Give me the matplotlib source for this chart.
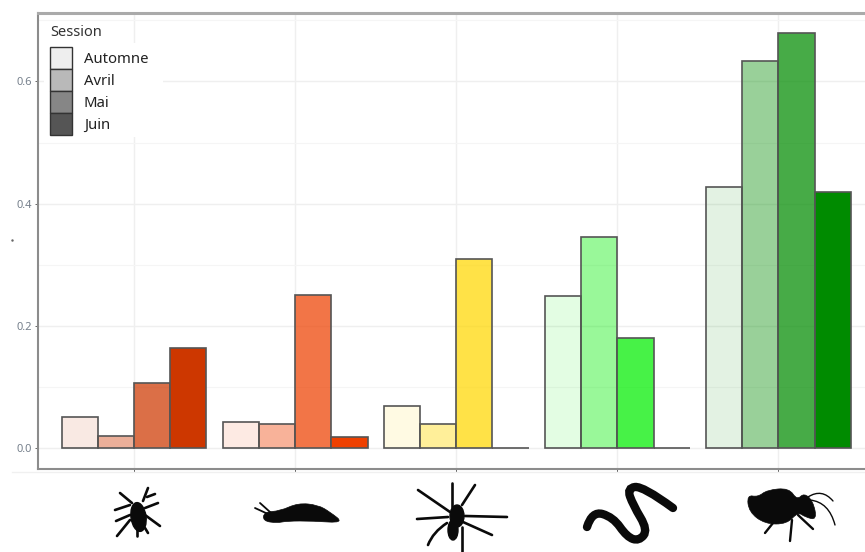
# -*- coding: utf-8 -*-
"""Bars per taxon and session, with taxon silhouettes under the axis."""

import matplotlib
matplotlib.use('Agg')
import matplotlib.pyplot as plt
import numpy as np
from matplotlib.colors import to_rgba
from matplotlib.patches import Ellipse, Patch, PathPatch, Rectangle
from matplotlib.path import Path

sessions = ['Automne', 'Avril', 'Mai', 'Juin']
session_alpha = [0.11, 0.4, 0.72, 1.0]
legend_grey = ['#eeeeee', '#b9b9b9', '#868686', '#555555']

base_colours = ['#cd3700', '#ee4000', '#ffd700', '#00ee00', '#008b00']
automne = [0.050, 0.043, 0.068, 0.249, 0.427]
avril = [0.020, 0.040, 0.040, 0.346, 0.633]
mai = [0.106, 0.250, 0.310, 0.180, 0.679]
juin = [0.163, 0.018, 0.0, 0.0, 0.419]
y_ticks = [0.0, 0.2, 0.4, 0.6]

W, H = 865, 552
values = [automne, avril, mai, juin]
bar_width = 0.225

plt.rcParams['font.family'] = 'Noto Sans'
fig = plt.figure(figsize=(W/100, H/100), dpi=100)
# ggplot-like panel: the right edge runs past the end of the image
ax = fig.add_axes([38/W, (H-469)/H, (875-38)/W, (469-13)/H])
ax.set_xlim(0.404, 5.6)
ax.set_ylim(-0.0343, 0.712)
ax.set_axisbelow(True)

# overlay in image pixel coordinates, used for the legend mask and silhouettes
icons = fig.add_axes([0, 0, 1, 1], zorder=5)
icons.set_xlim(0, W)
icons.set_ylim(H, 0)
icons.axis('off')

positions = np.arange(1, 6)
for i, session in enumerate(sessions):
    fills = [to_rgba(c, session_alpha[i]) for c in base_colours]
    ax.bar(positions + (i-1.5)*bar_width, values[i], bar_width, color=fills,
           edgecolor='#555555', linewidth=1.2)

ax.set_xticks(positions)
ax.set_xticklabels([])
ax.set_yticks(y_ticks)
ax.set_yticklabels(['%.1f' % t for t in y_ticks], fontsize=8, color='#76808c')
ax.set_yticks([0.1, 0.3, 0.5, 0.7], minor=True)
ax.tick_params(axis='both', which='major', length=2.5, width=0.7, color='#666666', pad=2)
ax.tick_params(axis='y', which='minor', length=0)
ax.grid(True, which='major', color='#efefef', linewidth=1.0)
ax.grid(True, which='minor', axis='y', color='#f5f5f5', linewidth=0.8)
for spine in ax.spines.values():
    spine.set_color('#8c8c8c')
    spine.set_linewidth(1.5)
ax.spines['top'].set_color('#aaaaaa')
ax.spines['top'].set_linewidth(2.2)

# white legend background hides the grid
ax.add_patch(Rectangle((44, 43), 119, 94, transform=icons.transData, facecolor='white',
                       edgecolor='none', zorder=1.5))
handles = [Patch(facecolor=g, edgecolor='#333333', linewidth=1.0) for g in legend_grey]
leg = ax.legend(handles, sessions, loc='upper left',
                bbox_to_anchor=(12/837, 1-34/456), fontsize=10.7,
                frameon=False, handlelength=1.48, handleheight=1.9, labelspacing=0,
                handletextpad=0.8, borderpad=0, borderaxespad=0)
for text in leg.get_texts():
    text.set_color('#222222')
icons.text(50, 33, 'Session', fontsize=10.5, color='#333333', ha='left', va='center')

ink = '#0a0a0a'


def smooth(points, closed=False):
    """Quadratic spline through the midpoints of the given outline."""
    pts = [np.array(p, dtype=float) for p in points]
    if closed:
        pts = pts + pts[:1]
        start = (pts[0] + pts[1]) / 2
        verts, codes = [start], [Path.MOVETO]
        for a, b in zip(pts[1:], pts[2:] + pts[1:2]):
            verts += [a, (a + b) / 2]
            codes += [Path.CURVE3, Path.CURVE3]
    else:
        verts, codes = [pts[0]], [Path.MOVETO]
        for a, b in zip(pts[1:-1], pts[2:]):
            end = b if b is pts[-1] else (a + b) / 2
            verts += [a, end]
            codes += [Path.CURVE3, Path.CURVE3]
        if len(pts) == 2:
            verts.append(pts[1])
            codes.append(Path.LINETO)
    return Path(verts, codes)


def legs(segments, width):
    for seg in segments:
        icons.add_patch(PathPatch(smooth(seg), facecolor='none', edgecolor=ink, linewidth=width,
                                  capstyle='round'))


def body(points):
    icons.add_patch(PathPatch(smooth(points, closed=True), facecolor=ink, edgecolor=ink,
                              linewidth=0.5))


# beetle
icons.add_patch(Ellipse((138.5, 517), 15, 29, angle=-8, color=ink))
legs([[(132, 503), (120, 493)], [(143, 501), (148, 488)], [(147, 497), (155, 494)],
      [(130, 505), (115, 510)], [(145, 508), (158, 503)], [(130, 515), (116, 521)],
      [(145, 515), (160, 526)], [(130, 520), (117, 536)],
      [(137, 528), (137, 536)], [(145, 528), (148, 533)]], 1.9)

# slug
body([(264, 512), (280, 511), (298, 503), (318, 505), (330, 512), (344, 523),
      (313, 521), (287, 521), (277, 523), (263, 521)])
legs([[(268, 514), (255, 508)], [(270, 512), (260, 503)]], 1.3)

# spider
icons.add_patch(Ellipse((457, 516), 14, 22, color=ink))
icons.add_patch(Ellipse((453, 530), 10, 20, color=ink))
legs([[(450, 512), (418, 490)], [(452, 483), (452, 507)], [(462, 505), (475, 485)],
      [(465, 516), (507, 517)], [(463, 522), (492, 535)], [(462, 527), (462, 552)],
      [(448, 517), (417, 519)], [(447, 523), (433, 532), (428, 545)]], 1.9)

# worm
legs([[(587, 527), (592, 511), (613, 517), (627, 537), (639, 541), (648, 530),
       (633, 505), (627, 488), (643, 486), (673, 508)]], 6.0)

# bug
body([(747, 495), (758, 497), (767, 490), (789, 488), (797, 500), (804, 493),
      (813, 501), (817, 520), (805, 517), (798, 512), (787, 524), (765, 524), (749, 512)])
legs([[(773, 523), (765, 533)], [(792, 520), (790, 541)], [(798, 515), (813, 529)]], 1.7)
legs([[(808, 497), (822, 488), (833, 501)], [(810, 500), (829, 502), (835, 525)]], 1.0)

# stray speck and faint rule left in the picture
icons.plot([12], [240], '.', markersize=1.5, color='#666666')
icons.plot([12, 865], [472, 472], color='#f0f0f0', linewidth=1.0)

fig.savefig('out.png', dpi=100)
